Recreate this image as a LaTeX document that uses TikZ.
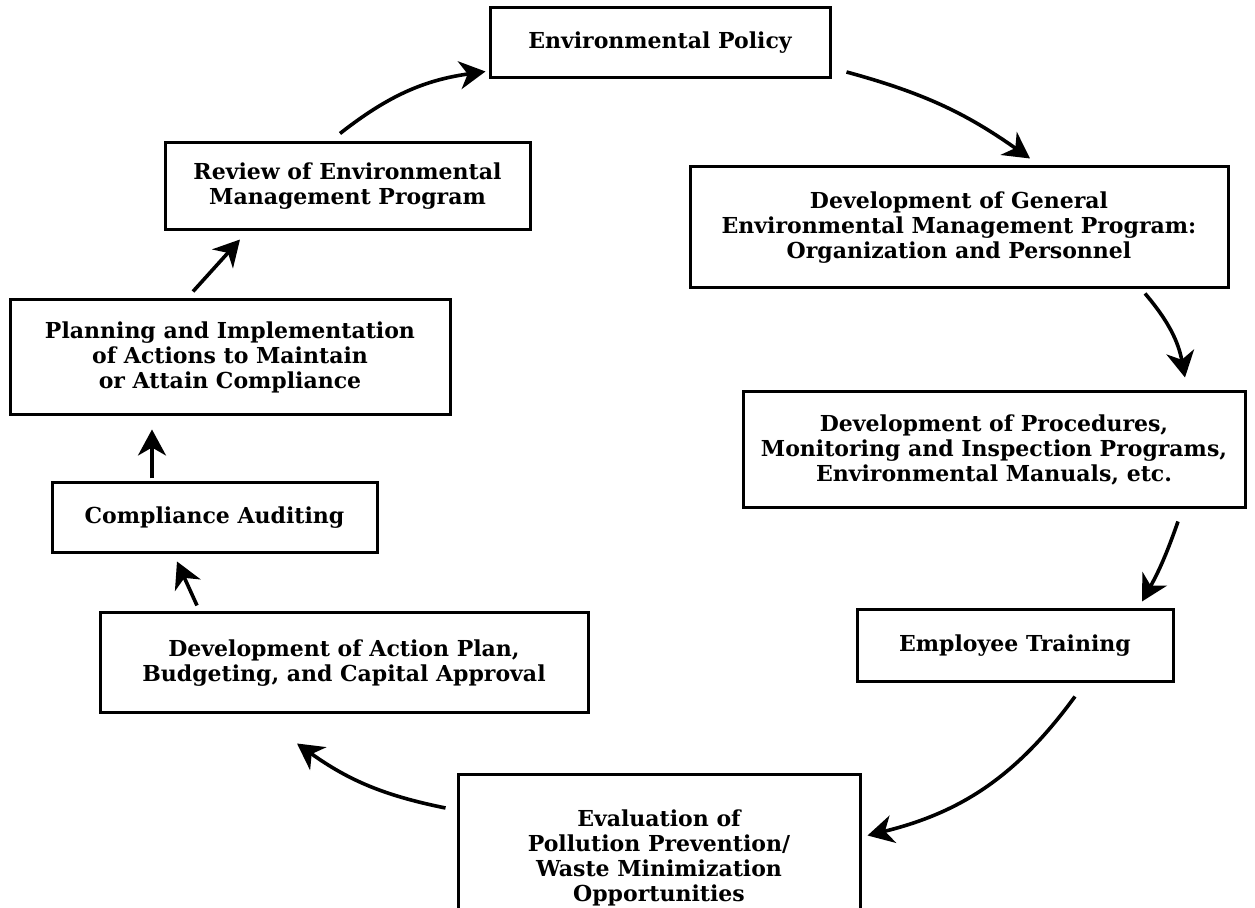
\documentclass[tikz,border=0pt]{standalone}
\usepackage{fontspec}
\setmainfont{DejaVu Serif}
\usetikzlibrary{arrows.meta}

\tikzset{
  stage/.style={draw, line width=1.5pt, align=center, inner sep=0pt,
    font=\bfseries\fontsize{11}{12.5}\selectfont},
  cycarrow/.style={line width=1.8pt,
    -{Stealth[length=13pt, width=14pt, inset=4pt]}}
}

\begin{document}
\begin{tikzpicture}[x=0.5pt, y=-0.5pt]
    \useasboundingbox (0,0) rectangle (1255,908);
    \clip (0,0) rectangle (1255,908);

    % Stages of the cycle
    \node[stage, minimum width=170pt, minimum height=35pt] (policy) at (660,43) {Environmental Policy};
    \node[stage, minimum width=269pt, minimum height=60.5pt] (general) at (959,227.5)
        {Development of General\\Environmental Management Program:\\Organization and Personnel};
    \node[stage, minimum width=251pt, minimum height=58pt] (procedures) at (994,450)
        {Development of Procedures,\\Monitoring and Inspection Programs,\\Environmental Manuals, etc.};
    \node[stage, minimum width=158pt, minimum height=36pt] (training) at (1015,646) {Employee Training};
    \node[stage, minimum width=201pt, minimum height=82.5pt] (evaluation) at (659,857.5)
        {Evaluation of\\Pollution Prevention/\\Waste Minimization\\Opportunities};
    \node[stage, minimum width=244pt, minimum height=50pt] (actionplan) at (344,663)
        {Development of Action Plan,\\Budgeting, and Capital Approval};
    \node[stage, minimum width=162.5pt, minimum height=35pt] (auditing) at (214.5,518) {Compliance Auditing};
    \node[stage, minimum width=220pt, minimum height=57.5pt] (planning) at (230,357.5)
        {Planning and Implementation\\of Actions to Maintain\\or Attain Compliance};
    \node[stage, minimum width=182.5pt, minimum height=43.5pt] (review) at (347.5,186.5)
        {Review of Environmental\\Management Program};

    % Arrows round the cycle
    \draw[cycarrow] ([shift={(-7.5,-8)}]review.north) to[bend left=15] ([shift={(-3,-8)}]policy.south west);
    \draw[cycarrow] ([shift={(15,29)}]policy.east) to[bend left=10] ([shift={(71,-7)}]general.north);
    \draw[cycarrow] ([shift={(186,4)}]general.south) to[bend left=15] ([shift={(191,-13)}]procedures.north);
    \draw[cycarrow] ([shift={(184,12)}]procedures.south) to[bend left=5] ([shift={(127,-7)}]training.north);
    \draw[cycarrow] ([shift={(60,13)}]training.south) to[bend left=20] ([shift={(6,-22)}]evaluation.east);
    \draw[cycarrow] ([shift={(-11,-49.5)}]evaluation.west) to[bend left=12] ([shift={(-47,29)}]actionplan.south);
    \draw[cycarrow] ([shift={(-147,-6)}]actionplan.north) -- ([shift={(-37.5,7)}]auditing.south);
    \draw[cycarrow] ([shift={(-62.5,-3)}]auditing.north) -- ([shift={(-78,13)}]planning.south);
    \draw[cycarrow] ([shift={(-37,-7)}]planning.north) -- ([shift={(-107.5,8)}]review.south);
\end{tikzpicture}
\end{document}
